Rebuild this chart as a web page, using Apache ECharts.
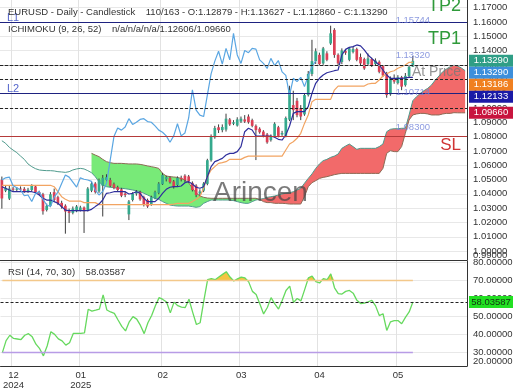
<!DOCTYPE html>
<html><head><meta charset="utf-8">
<script src="https://cdn.jsdelivr.net/npm/echarts@6/dist/echarts.min.js"></script>
<style>html,body{margin:0;padding:0;background:#fff}#c{width:520px;height:390px}</style>
</head><body><div id="c"></div>
<script>
// ---------- DATA ----------
const header1 = 'EURUSD - Daily - Candlestick    110/163 - O:1.12879 - H:1.13627 - L:1.12860 - C:1.13290';
const header2 = 'ICHIMOKU (9, 26, 52)    n/a/n/a/n/a/1.12606/1.09660';
const rsiHeader = 'RSI (14, 70, 30)    58.03587';

const monthIdx = [3, 21, 43, 64, 85, 106];
const monthLabels = ['12\n2024', '01\n2025', '02', '03', '04', '05'];
const mainTicks = [1.00, 1.01, 1.02, 1.03, 1.04, 1.05, 1.06, 1.07, 1.08, 1.09, 1.10, 1.11, 1.12, 1.13, 1.14, 1.15, 1.16, 1.17];
const mainMinTick = [0.99382];
const rsiTicks = [30, 40, 50, 60, 70, 80];
const rsiMinTick = [22.33];

const opens = [
1.0498,1.0422,1.0367,1.0437,1.0429,1.0437,1.0435,1.0415,1.0427,1.0452,
1.0412,1.0397,1.0287,1.0317,1.0412,1.0377,1.0337,1.0317,1.0279,1.0267,
1.0279,1.0287,1.0305,1.0286,1.0422,1.0472,1.0417,1.0457,1.0497,1.0497,
1.0467,1.0447,1.0432,1.0402,1.0257,1.0357,1.0402,1.0412,1.0377,1.0357,
1.0327,1.0367,1.0407,1.0467,1.0502,1.0512,1.0487,1.0462,1.0512,1.0527,
1.0522,1.0477,1.0457,1.0402,1.0422,1.0470,1.0635,1.0795,1.0865,1.0845,
1.0849,1.0920,1.0890,1.0877,1.0905,1.0920,1.0940,1.0915,1.0875,1.0855,
1.0835,1.0815,1.0775,1.0805,1.0865,1.0815,1.0805,1.0918,1.1020,1.1050,
1.1000,1.0955,1.1090,1.1237,1.1327,1.1371,1.1311,1.1381,1.1450,1.1545,
1.1371,1.1321,1.1396,1.1336,1.1391,1.1411,1.1356,1.1341,1.1306,1.1341,
1.1306,1.1322,1.1292,1.1242,1.1095,1.1199,1.1174,1.1214,1.1159,1.1222,
1.12879];
const highs = [
1.0521,1.0457,1.0462,1.0449,1.0447,1.0452,1.0447,1.0442,1.0467,1.0462,
1.0422,1.0407,1.0332,1.0412,1.0437,1.0387,1.0352,1.0327,1.0297,1.0312,
1.0322,1.0317,1.0312,1.0447,1.0487,1.0482,1.0507,1.0532,1.0537,1.0512,
1.0479,1.0457,1.0442,1.0417,1.0357,1.0412,1.0427,1.0422,1.0387,1.0367,
1.0387,1.0422,1.0482,1.0547,1.0527,1.0522,1.0497,1.0522,1.0527,1.0537,
1.0532,1.0487,1.0467,1.0432,1.0482,1.0645,1.0815,1.0875,1.0885,1.0885,
1.0960,1.0930,1.0915,1.0935,1.0940,1.0950,1.0955,1.0925,1.0885,1.0865,
1.0845,1.0825,1.0815,1.0900,1.0875,1.0840,1.0940,1.1155,1.1120,1.1070,
1.1020,1.1100,1.1258,1.1476,1.1416,1.1386,1.1426,1.1396,1.15744,1.1557,
1.1381,1.1416,1.1411,1.1426,1.1426,1.1421,1.1380,1.1351,1.1380,1.1351,
1.1346,1.1332,1.1297,1.1252,1.1220,1.1234,1.1229,1.1224,1.1244,1.1300,
1.13627];
const lows = [
1.0297,1.0412,1.0357,1.0417,1.0417,1.0422,1.0407,1.0407,1.0417,1.0402,
1.0392,1.0255,1.0277,1.0307,1.0347,1.0322,1.0297,1.0122,1.0197,1.0257,
1.0272,1.0277,1.0127,1.0277,1.0412,1.0402,1.0407,1.0242,1.0487,1.0447,
1.0432,1.0417,1.0377,1.0377,1.0217,1.0347,1.0387,1.0352,1.0312,1.0302,
1.0317,1.0362,1.0397,1.0462,1.0487,1.0472,1.0437,1.0452,1.0487,1.0482,
1.0477,1.0417,1.0377,1.0377,1.0412,1.0460,1.0625,1.0785,1.0825,1.0830,
1.0835,1.0875,1.0880,1.0870,1.0895,1.0895,1.0890,1.0865,1.0636,1.0820,
1.0795,1.0750,1.0765,1.0795,1.0795,1.0805,1.0795,1.0908,1.0915,1.0935,
1.0915,1.0945,1.1080,1.1222,1.1307,1.1296,1.1301,1.1326,1.1440,1.1350,
1.1296,1.1306,1.1371,1.1326,1.1381,1.1326,1.1296,1.1266,1.1296,1.1286,
1.1296,1.1242,1.1217,1.10714,1.1085,1.1169,1.1164,1.1124,1.1149,1.1212,
1.12860];
const closes = [
1.0368,1.0442,1.0437,1.0429,1.0437,1.0432,1.0412,1.0429,1.0455,1.0412,
1.0402,1.0279,1.0317,1.0397,1.0357,1.0333,1.0309,1.0277,1.0267,1.0297,
1.0312,1.0305,1.0279,1.0437,1.0472,1.0412,1.0497,1.0512,1.0517,1.0457,
1.0442,1.0427,1.0387,1.0392,1.0347,1.0402,1.0417,1.0362,1.0322,1.0312,
1.0377,1.0412,1.0472,1.0532,1.0517,1.0482,1.0447,1.0512,1.0502,1.0497,
1.0487,1.0427,1.0392,1.0417,1.0472,1.0635,1.0800,1.0860,1.0845,1.0867,
1.0925,1.0885,1.0900,1.0920,1.0925,1.0905,1.0900,1.0875,1.0845,1.0830,
1.0805,1.0760,1.0805,1.0890,1.0805,1.0825,1.0930,1.1126,1.0985,1.0950,
1.0940,1.1090,1.1238,1.1327,1.1396,1.1306,1.1416,1.1336,1.1521,1.1370,
1.1311,1.1401,1.1386,1.1416,1.1411,1.1336,1.1311,1.1276,1.1346,1.1296,
1.1331,1.1252,1.1227,1.1090,1.1207,1.1184,1.1214,1.1149,1.1224,1.12879,
1.13290];

const tenkan = [
1.0450,1.0439,1.0427,1.0415,1.0415,1.0415,1.0415,1.0415,1.0415,1.0408,
1.0392,1.0369,1.0357,1.0357,1.0346,1.0334,1.0311,1.0287,1.0283,1.0283,
1.0283,1.0283,1.0283,1.0283,1.0292,1.0311,1.0329,1.0357,1.0404,1.0408,
1.0415,1.0415,1.0415,1.0415,1.0399,1.0404,1.0415,1.0404,1.0369,1.0346,
1.0346,1.0346,1.0369,1.0404,1.0432,1.0446,1.0450,1.0450,1.0455,1.0478,
1.0485,1.0469,1.0446,1.0439,1.0450,1.0520,1.0590,1.0625,1.0636,1.0648,
1.0671,1.0683,1.0683,1.0695,1.0730,1.0834,1.0858,1.0846,1.0804,1.0804,
1.0804,1.0804,1.0804,1.0795,1.0781,1.0776,1.0811,1.0874,1.0962,1.0974,
1.0974,1.0974,1.1009,1.1102,1.1172,1.1207,1.1230,1.1246,1.1253,1.1260,
1.1265,1.1370,1.1409,1.1423,1.1428,1.1440,1.1433,1.1405,1.1370,1.1346,
1.1323,1.1300,1.1265,1.1230,1.1207,1.1207,1.1207,1.1207,1.1210,1.12133,
1.12133];
const kijun = [
1.0460,1.0460,1.0460,1.0460,1.0460,1.0460,1.0460,1.0460,1.0460,1.0460,
1.0460,1.0460,1.0460,1.0460,1.0450,1.0415,1.0380,1.0362,1.0350,1.0350,
1.0350,1.0350,1.0339,1.0339,1.0339,1.0339,1.0325,1.0325,1.0325,1.0325,
1.0325,1.0325,1.0325,1.0325,1.0325,1.0325,1.0325,1.0325,1.0325,1.0325,
1.0325,1.0325,1.0325,1.0325,1.0325,1.0325,1.0329,1.0334,1.0334,1.0334,
1.0334,1.0346,1.0362,1.0380,1.0439,1.0520,1.0567,1.0590,1.0613,1.0618,
1.0625,1.0641,1.0641,1.0641,1.0641,1.0655,1.0664,1.0664,1.0664,1.0664,
1.0664,1.0664,1.0664,1.0664,1.0664,1.0664,1.0706,1.0748,1.0764,1.0788,
1.0823,1.0892,1.0951,1.1044,1.1060,1.1060,1.1060,1.1060,1.1060,1.1125,
1.1153,1.1153,1.1153,1.1153,1.1153,1.1153,1.1153,1.1153,1.1167,1.1172,
1.1172,1.1195,1.1223,1.1237,1.1253,1.1260,1.1277,1.1288,1.1300,1.13186,
1.13186];
const spanA = [
1.0771,1.0753,1.0725,1.0706,1.0688,1.0664,1.0641,1.0609,1.0590,1.0576,
1.0567,1.0564,1.0562,1.0562,1.0560,1.0555,1.0553,1.0550,1.0555,1.0567,
1.0574,1.0578,1.0574,1.0562,1.0548,1.0520,1.0485,1.0460,1.0450,1.0446,
1.0443,1.0439,1.0439,1.0436,1.0432,1.0427,1.0422,1.0415,1.0404,1.0392,
1.0380,1.0369,1.0362,1.0346,1.0334,1.0322,1.0318,1.0315,1.0315,1.0315,
1.0315,1.0311,1.0306,1.0311,1.0334,1.0346,1.0357,1.0357,1.0357,1.0357,
1.0357,1.0357,1.0353,1.0346,1.0339,1.0334,1.0334,1.0346,1.0357,1.0362,
1.0367,1.0376,1.0380,1.0385,1.0392,1.0399,1.0404,1.0408,1.0415,1.0427,
1.0439,1.0474,1.0508,1.0539,1.0578,1.0609,1.0632,1.0641,1.0655,1.0664,
1.0678,1.0718,1.0734,1.0748,1.0730,1.0711,1.0718,1.0718,1.0718,1.0718,
1.0718,1.0730,1.0748,1.0834,1.0851,1.0855,1.0855,1.0858,1.0858,1.0951,
1.1051,1.1079,1.1102,1.1121,1.1137,1.1160,1.1195,1.1223,1.1253,1.1272,
1.1288,1.1298,1.1293,1.1279,1.12606];
const spanB = [
null,null,null,null,null,null,null,null,null,null,
null,null,null,null,null,null,null,null,null,null,
null,null,null,null,1.0683,1.0671,1.0660,1.0641,1.0625,1.0618,
1.0613,1.0613,1.0613,1.0611,1.0609,1.0609,1.0609,1.0606,1.0601,1.0595,
1.0590,1.0585,1.0578,1.0543,1.0525,1.0520,1.0518,1.0515,1.0508,1.0497,
1.0478,1.0439,1.0408,1.0385,1.0376,1.0371,1.0369,1.0369,1.0369,1.0369,
1.0369,1.0369,1.0369,1.0369,1.0369,1.0369,1.0369,1.0369,1.0369,1.0362,
1.0346,1.0339,1.0339,1.0334,1.0334,1.0334,1.0332,1.0329,1.0329,1.0329,
1.0329,1.0380,1.0450,1.0478,1.0492,1.0508,1.0515,1.0520,1.0527,1.0534,
1.0539,1.0543,1.0543,1.0543,1.0543,1.0543,1.0543,1.0543,1.0543,1.0543,
1.0543,1.0543,1.0578,1.0683,1.0702,1.0695,1.0695,1.0730,1.0823,1.0916,
1.0951,1.0958,1.0962,1.0962,1.0958,1.0951,1.0951,1.0951,1.0958,1.0962,
1.0962,1.0967,1.0966,1.0966,1.0966];
const rsi = [
29.8,36.5,39.5,37.7,37.4,37.1,39.5,40.4,38.6,34.5,
32.0,28.0,33.5,41.5,40.0,37.5,36.4,34.0,35.3,40.5,
40.5,40.6,40.8,54.0,53.0,53.5,54.1,62.0,53.6,52.5,
51.7,48.0,44.5,41.9,47.0,49.9,48.5,45.0,40.4,46.5,
50.5,56.0,60.5,59.5,58.1,52.0,58.0,56.0,55.2,55.0,
59.6,52.3,45.5,46.5,59.0,70.5,71.1,70.5,72.0,73.5,
75.0,72.0,69.8,71.0,72.0,71.5,69.3,64.0,62.3,56.9,
51.4,55.0,60.5,57.0,54.1,59.0,64.5,66.9,57.8,60.0,
58.7,65.0,71.5,72.5,69.5,68.7,71.1,70.5,73.8,66.0,
62.8,62.5,64.0,64.5,63.0,59.0,57.2,57.5,58.2,59.0,
55.9,50.5,51.5,42.2,47.0,47.7,47.7,45.9,49.5,52.5,
58.03587];

// horizontal levels
const levelL1 = 1.15744, levelL2 = 1.10714, levelSL = 1.08300;
const levelTop = 1.13320;
const levelAtPrice = 1.12606;
const dashedLevels = [1.13290, 1.12606, 1.12133, 1.09660];
const priceTagLevels = [1.15744, 1.13320, 1.10714, 1.08300];
const rsiUpper = 70, rsiLower = 30, rsiLast = 58.03587;
// right-axis value boxes
const boxValues = [1.13290, 1.13290, 1.13186, 1.12133, 1.09660];
const boxColors = ['#2f9e86', '#3d8fdb', '#f08020', '#1a1aa6', '#c8143e'];

// ---------- CHART ----------
const FONT = 'Liberation Sans, Arial, sans-serif';
const N = 125;
const LAST = 110;
const cats = Array.from({length: N}, (_, i) => String(i));
const candleData = opens.map((o, i) => [i, o, closes[i], lows[i], highs[i]]);
const chikou = closes.slice(26);
const cloudBase = [], greenBand = [], redBand = [];
for (let i = 0; i < N; i++) {
  const a = spanA[i], b = spanB[i];
  if (a == null || b == null) { cloudBase.push('-'); greenBand.push('-'); redBand.push('-'); continue; }
  cloudBase.push(Math.min(a, b));
  greenBand.push(b > a ? b - a : 0);
  redBand.push(a > b ? a - b : 0);
}
const rsiBase = rsi.map(() => rsiUpper);
const rsiHot = rsi.map(v => Math.max(0, v - rsiUpper));
const isMonth = (idx) => monthIdx.indexOf(idx) >= 0;

const UP = '#35a98d', DOWN = '#dc3f55';
function renderCandle(params, api) {
  const i = api.value(0), o = api.value(1), c = api.value(2), l = api.value(3), h = api.value(4);
  const pO = api.coord([i, o]), pC = api.coord([i, c]), pL = api.coord([i, l]), pH = api.coord([i, h]);
  const w = api.size([1, 0])[0] * 0.72;
  const top = Math.min(pO[1], pC[1]);
  const bh = Math.max(1, Math.abs(pO[1] - pC[1]));
  return {
    type: 'group',
    children: [
      {type: 'line', shape: {x1: pH[0], y1: pH[1], x2: pL[0], y2: pL[1]}, style: {stroke: '#3c3c3c', lineWidth: 1}},
      {type: 'rect', shape: {x: pO[0] - w / 2, y: top, width: w, height: bh}, style: {fill: c >= o ? UP : DOWN}}
    ]
  };
}

const chart = echarts.init(document.getElementById('c'), null, {renderer: 'canvas'});
const dashed = {type: [3, 2], color: '#222', width: 1};
const fmtMain = v => (Math.floor(v * 100 + 1e-7) / 100).toFixed(5);
const fmtRsi = v => (Math.floor(v / 10 + 1e-7) * 10).toFixed(5);
const lineSeries = (name, data, color, width, z) => ({
  name, type: 'line', data, xAxisIndex: 0, yAxisIndex: 0, symbol: 'none', silent: true,
  lineStyle: {color, width}, z
});
const titleStyle = {fontSize: 9.5, fontWeight: 'normal', color: '#333', fontFamily: FONT};
const valueAxis = (grid, min, max, ticks, fmt, extra) => Object.assign({
  type: 'value', gridIndex: grid, position: 'right', min, max,
  axisLine: {show: true, lineStyle: {color: '#333'}},
  axisTick: {show: false, customValues: ticks},
  axisLabel: {customValues: ticks, formatter: fmt, showMinLabel: true, showMaxLabel: true, hideOverlap: false,
    fontSize: 9.5, color: '#333', margin: 6, fontFamily: FONT},
  splitLine: {show: true, lineStyle: {color: '#e8e8e8'}}
}, extra || {});
const edgeAxis = (grid, min, max, ticks, fmt) => ({
  type: 'value', gridIndex: grid, position: 'right', min, max,
  axisLine: {show: false}, axisTick: {show: false, customValues: ticks}, splitLine: {show: false},
  axisLabel: {customValues: ticks, formatter: fmt, showMinLabel: true, hideOverlap: false, verticalAlign: 'bottom',
    fontSize: 9.5, color: '#333', margin: 6, fontFamily: FONT}
});

chart.setOption({
  animation: false,
  textStyle: {fontFamily: FONT},
  title: [
    {text: header1, left: 3, top: 2, textStyle: titleStyle},
    {text: header2, left: 3, top: 19, textStyle: titleStyle},
    {text: rsiHeader, left: 3, top: 262, textStyle: titleStyle}
  ],
  grid: [
    {left: 0, top: 0, width: 467, height: 260},
    {left: 0, top: 261, width: 467, height: 107}
  ],
  xAxis: [
    {type: 'category', gridIndex: 0, data: cats, boundaryGap: true,
     axisLine: {show: true, lineStyle: {color: '#333'}}, axisTick: {show: false}, axisLabel: {show: false},
     splitLine: {show: true, interval: isMonth, lineStyle: {color: '#e2e2e2'}}},
    {type: 'category', gridIndex: 1, data: cats, boundaryGap: true,
     axisLine: {show: true, lineStyle: {color: '#333'}}, axisTick: {show: false},
     axisLabel: {show: true, interval: isMonth, formatter: (v, idx) => monthLabels[monthIdx.indexOf(idx)] || '',
       fontSize: 9.5, lineHeight: 10, color: '#333', margin: 4, fontFamily: FONT},
     splitLine: {show: true, interval: isMonth, lineStyle: {color: '#e2e2e2'}}}
  ],
  yAxis: [
    valueAxis(0, 0.99382, 1.17538, mainTicks, fmtMain),
    valueAxis(1, 22.33, 80.96, rsiTicks, fmtRsi),
    edgeAxis(0, 0.99382, 1.17538, mainMinTick, fmtMain),
    edgeAxis(1, 22.33, 80.96, rsiMinTick, fmtRsi)
  ],
  series: [
    // Ichimoku cloud fill
    {type: 'line', data: cloudBase, stack: 'cg', symbol: 'none', silent: true, lineStyle: {opacity: 0}, z: 1},
    {type: 'line', data: greenBand, stack: 'cg', symbol: 'none', silent: true, lineStyle: {opacity: 0},
     areaStyle: {color: '#78ea78', opacity: 1}, z: 1},
    {type: 'line', data: cloudBase, stack: 'cr', symbol: 'none', silent: true, lineStyle: {opacity: 0}, z: 1},
    {type: 'line', data: redBand, stack: 'cr', symbol: 'none', silent: true, lineStyle: {opacity: 0},
     areaStyle: {color: '#f26a6a', opacity: 1}, z: 1},
    lineSeries('Senkou A', spanA, '#4f9a8c', 1, 2),
    lineSeries('Senkou B', spanB, '#8c6a55', 1, 2),
    // candles
    {type: 'custom', name: 'EURUSD', data: candleData, xAxisIndex: 0, yAxisIndex: 0, renderItem: renderCandle,
     encode: {x: 0, y: [1, 2, 3, 4]}, silent: true, z: 3, clip: true},
    lineSeries('Kijun', kijun, '#f2a462', 1.2, 4),
    lineSeries('Tenkan', tenkan, '#2e2e9c', 1.2, 4),
    lineSeries('Chikou', chikou, '#5aa6e2', 1.2, 4),
    // horizontal levels
    {type: 'line', data: [], xAxisIndex: 0, yAxisIndex: 0, silent: true, z: 5,
     markLine: {silent: true, symbol: 'none', animation: false, label: {show: false},
       data: [
         {yAxis: levelL1, lineStyle: {color: '#1e2280', width: 1, type: 'solid'},
          label: {show: true, formatter: 'L1', position: 'insideStartTop', distance: [7, -1], color: '#5566cc', fontSize: 11}},
         {yAxis: levelTop, lineStyle: {color: '#9a9a9a', width: 1, type: 'solid'}},
         ...dashedLevels.map(v => ({yAxis: v, lineStyle: dashed})),
         {yAxis: levelL2, lineStyle: {color: '#1e2280', width: 1, type: 'solid'},
          label: {show: true, formatter: 'L2', position: 'insideStartTop', distance: [7, -1], color: '#5566cc', fontSize: 11}},
         {yAxis: levelSL, lineStyle: {color: '#b53a3a', width: 1, type: 'solid'}}
       ]}},
    {type: 'scatter', xAxisIndex: 0, yAxisIndex: 0, symbolSize: 0, silent: true, z: 6,
     data: priceTagLevels.map(v => [LAST, v]),
     label: {show: true, position: 'top', distance: 0, formatter: p => p.value[1].toFixed(5), color: '#7082d8', fontSize: 9.5}},
    // RSI
    {type: 'line', xAxisIndex: 1, yAxisIndex: 1, data: rsiBase, stack: 'rsi', symbol: 'none', silent: true, lineStyle: {opacity: 0}},
    {type: 'line', xAxisIndex: 1, yAxisIndex: 1, data: rsiHot, stack: 'rsi', symbol: 'none', silent: true, lineStyle: {opacity: 0},
     areaStyle: {color: '#f5c443', opacity: 1}},
    {type: 'line', name: 'RSI', xAxisIndex: 1, yAxisIndex: 1, data: rsi, symbol: 'none', silent: true, z: 4,
     lineStyle: {color: '#66d95e', width: 1.3},
     markLine: {silent: true, symbol: 'none', animation: false, label: {show: false},
       data: [
         [{coord: [0, rsiUpper]}, {coord: [LAST, rsiUpper], lineStyle: {color: '#f3c88a', width: 1.3, type: 'solid'}}],
         [{coord: [0, rsiLower]}, {coord: [LAST, rsiLower], lineStyle: {color: '#b89ce6', width: 1.3, type: 'solid'}}],
         {yAxis: rsiLast, lineStyle: dashed}
       ]}}
  ]
});

// annotations placed relative to their level lines
const px = v => chart.convertToPixel({yAxisIndex: 0}, v);
const graphics = [];
const addText = (text, x, y, size, fill, align, z) => graphics.push({type: 'text', x, y, z: z || 60,
  style: {text, fill, fontSize: size, fontFamily: FONT, textAlign: align || 'right', textVerticalAlign: 'middle'}});
addText('TP2', 461, px(levelL1) - 20, 18, '#2f9a3a');
addText('TP1', 461, px(levelL1) + 13, 18, '#2f9a3a');
addText('SL', 461, px(levelSL) + 13, 17, '#d03434');
addText('At Price', 461, px(levelAtPrice) + 1.5, 14, 'rgba(120,120,120,0.8)');
addText('Arincen', 213, 193, 28, 'rgba(70,70,70,0.72)', 'left', 50);

// value boxes on the right axis, stacked so they do not overlap
let prevY = -1e9;
boxValues.forEach((v, k) => {
  let y = px(v);
  if (y < prevY + 12) y = prevY + 12;
  prevY = y;
  graphics.push({type: 'rect', shape: {x: 469, y: y - 6, width: 44, height: 12}, style: {fill: boxColors[k]}, z: 100});
  graphics.push({type: 'text', x: 491, y: y, style: {text: v.toFixed(5), fill: '#fff', fontSize: 9.5, fontFamily: FONT,
    textAlign: 'center', textVerticalAlign: 'middle'}, z: 101});
});
const ry = chart.convertToPixel({yAxisIndex: 1}, rsiLast);
graphics.push({type: 'rect', shape: {x: 469, y: ry - 6, width: 44, height: 12}, style: {fill: '#22e022'}, z: 100});
graphics.push({type: 'text', x: 491, y: ry, style: {text: rsiLast.toFixed(5), fill: '#143214', fontSize: 9.5, fontFamily: FONT,
  textAlign: 'center', textVerticalAlign: 'middle'}, z: 101});
chart.setOption({graphic: graphics});
</script>
</body></html>
